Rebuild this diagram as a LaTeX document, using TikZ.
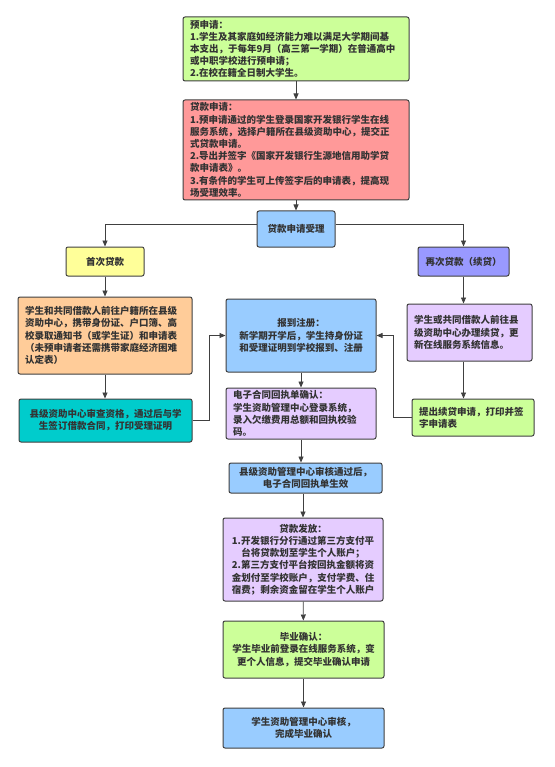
\documentclass[tikz,border=0pt]{standalone}
\usepackage{fontspec}
\setmainfont{Noto Sans CJK SC}
\usepackage{tikz}
\usetikzlibrary{arrows.meta}
\usepackage{xcolor}
\definecolor{linec}{RGB}{64,64,64}
\definecolor{txtc}{RGB}{51,51,51}
\definecolor{lgreen}{RGB}{204,255,153}
\definecolor{lred}{RGB}{255,153,153}
\definecolor{lblue}{RGB}{153,204,255}
\definecolor{lyellow}{RGB}{255,255,153}
\definecolor{lviolet}{RGB}{153,153,255}
\definecolor{lorange}{RGB}{255,204,153}
\definecolor{lteal}{RGB}{0,204,204}
\definecolor{lpurple}{RGB}{229,204,255}

\begin{document}
\begin{tikzpicture}[x=1pt,y=-1pt,
    box/.style={draw=linec,line width=1pt,rounded corners=2pt,inner xsep=7pt,inner ysep=2pt,
        text=txtc,font=\fontsize{9.5}{12.2}\selectfont\bfseries},
    flow/.style={draw=linec,line width=0.8pt,-{Triangle[length=6pt,width=5pt]}}]
    \useasboundingbox[fill=white] (0,0) rectangle (554,767);

    % Top: pre-application and loan application
    \node[box,fill=lgreen,text width=212pt,minimum height=64pt,align=left] (pre) at (296,49)
        {预申请：\\1.学生及其家庭如经济能力难以满足大学期间基\\本支出，于每年9月（高三第一学期）在普通高中\\或中职学校进行预申请；\\2.在校在籍全日制大学生。};
    \node[box,fill=lred,text width=212pt,minimum height=100pt,align=left] (loan) at (296,150)
        {贷款申请：\\1.预申请通过的学生登录国家开发银行学生在线\\服务系统，选择户籍所在县级资助中心，提交正\\式贷款申请。\\2.导出并签字《国家开发银行生源地信用助学贷\\款申请表》。\\3.有条件的学生可上传签字后的申请表，提高现\\场受理效率。};
    \node[box,fill=lblue,text width=64pt,minimum height=36pt,align=center] (accept) at (296,229) {贷款申请受理};

    % Left branch: first loan
    \node[box,fill=lyellow,text width=64pt,minimum height=29pt,align=center] (first) at (105,261.5) {首次贷款};
    \node[box,fill=lorange,text width=160pt,minimum height=77pt,align=left] (visit) at (105,335.5)
        {学生和共同借款人前往户籍所在县级\\资助中心，携带身份证、户口簿、高\\校录取通知书（或学生证）和申请表\\（未预申请者还需携带家庭经济困难\\认定表）};
    \node[box,fill=lteal,text width=159pt,minimum height=43pt,align=center] (check) at (105.5,420.5)
        {县级资助中心审查资格，通过后与学\\生签订借款合同，打印受理证明};

    % Right branch: renewal
    \node[box,fill=lviolet,text width=77pt,minimum height=29pt,align=center] (again) at (463.5,261.5) {再次贷款（续贷）};
    \node[box,fill=lpurple,text width=111pt,minimum height=57pt,align=left] (renew) at (469.5,332.5)
        {学生或共同借款人前往县\\级资助中心办理续贷，更\\新在线服务系统信息。};
    \node[box,fill=lgreen,text width=108pt,minimum height=37pt,align=left] (apply) at (473,417.5)
        {提出续贷申请，打印并签\\字申请表};

    % Middle column
    \node[box,fill=lblue,text width=136pt,minimum height=73pt,align=center] (report) at (301,335.5)
        {报到注册：\\新学期开学后，学生持身份证\\和受理证明到学校报到、注册};
    \node[box,fill=lpurple,text width=136pt,minimum height=51pt,align=left] (receipt) at (301,413.5)
        {电子合同回执单确认：\\学生资助管理中心登录系统，\\录入欠缴费用总额和回执校验\\码。};
    \node[box,fill=lblue,text width=139pt,minimum height=30pt,align=center] (review) at (305.5,478)
        {县级资助管理中心审核通过后，\\电子合同回执单生效};
    \node[box,fill=lpurple,text width=146pt,minimum height=83pt,align=center] (payout) at (303,559.5)
        {贷款发放：\\1.开发银行分行通过第三方支付平\\台将贷款划至学生个人账户；\\2.第三方支付平台按回执金额将资\\金划付至学校账户，支付学费、住\\宿费；剩余资金留在学生个人账户};
    \node[box,fill=lgreen,text width=147pt,minimum height=57pt,align=center] (grad) at (303.5,649.5)
        {毕业确认：\\学生毕业前登录在线服务系统，变\\更个人信息，提交毕业确认申请};
    \node[box,fill=lblue,text width=147pt,minimum height=40pt,align=center] (final) at (303.5,728)
        {学生资助管理中心审核，\\完成毕业确认};

    % Connectors
    \draw[flow] (pre) -- (loan);
    \draw[flow] (loan) -- (accept);
    \draw[flow] ([yshift=5pt]accept.west) -| (first.north);
    \draw[flow] ([yshift=5pt]accept.east) -| (again.north);
    \draw[flow] (first) -- (visit);
    \draw[flow] (visit.south) -- (visit.south |- check.north);
    \draw[flow] (check.east) -- ++(17,0) |- (report.west);
    \draw[flow] (again.south) -- (again.south |- renew.north);
    \draw[flow] (again.south |- renew.south) -- (again.south |- apply.north);
    \draw[flow] (apply.west) -- ++(-18,0) |- (report.east);
    \draw[flow] (report) -- (receipt);
    \draw[flow] (receipt.south) -- (receipt.south |- review.north);
    \draw[flow] (payout.north |- review.south) -- (payout.north);
    \draw[flow] (payout) -- (grad);
    \draw[flow] (grad) -- (final);
\end{tikzpicture}
\end{document}
